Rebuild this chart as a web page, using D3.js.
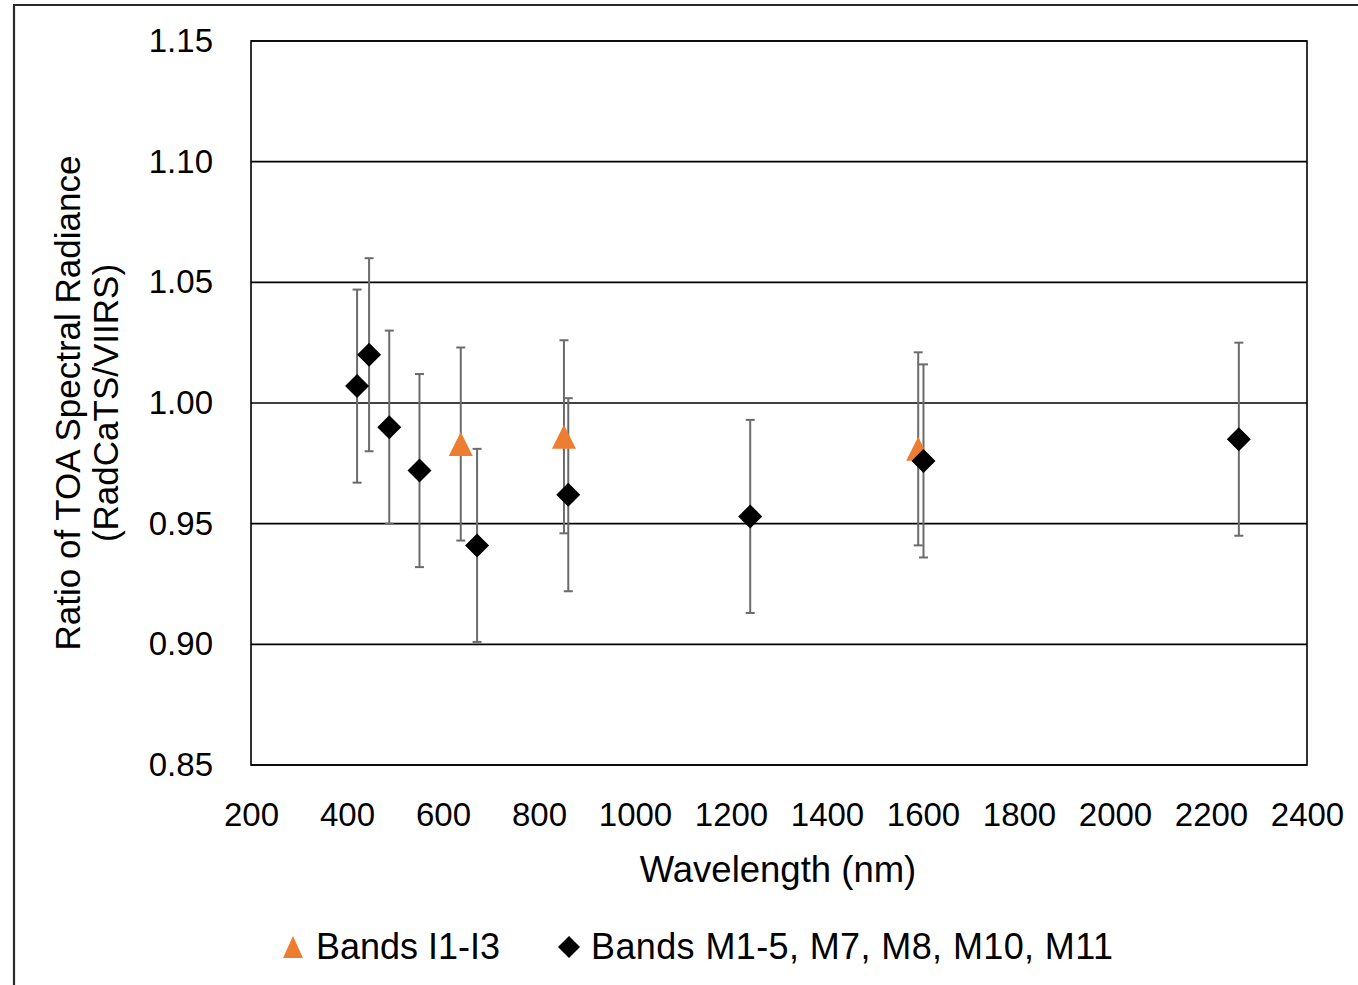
<!DOCTYPE html>
<html>
<head>
<meta charset="utf-8">
<script src="https://cdn.jsdelivr.net/npm/d3@7"></script>
<style>
  html, body { margin: 0; padding: 0; background: #fff; }
  svg { display: block; font-family: "Liberation Sans", Arial, sans-serif; }
</style>
</head>
<body>
<svg id="chart" width="1358" height="985"></svg>
<script>
// ---- data ----
const iWavelength = [637, 852, 1590];
const iRatio = [0.983, 0.986, 0.981];
const iError = [0.04, 0.04, 0.04];

const mWavelength = [421, 446, 488, 551, 671, 861, 1240, 1601, 2258];
const mRatio = [1.007, 1.020, 0.990, 0.972, 0.941, 0.962, 0.953, 0.976, 0.985];
const mError = [0.04, 0.04, 0.04, 0.04, 0.04, 0.04, 0.04, 0.04, 0.04];

const xTicks = [200, 400, 600, 800, 1000, 1200, 1400, 1600, 1800, 2000, 2200, 2400];
const yTicks = [0.85, 0.90, 0.95, 1.00, 1.05, 1.10, 1.15];
const seriesNames = ["Bands I1-I3", "Bands M1-5, M7, M8, M10, M11"];
const xTitle = "Wavelength (nm)";
const yTitle = ["Ratio of TOA Spectral Radiance", "(RadCaTS/VIIRS)"];

(function () {
// ---- layout ----
const svg = d3.select("#chart");
const pLeft = 251, pRight = 1307, pTop = 41, pBottom = 765;
const x = d3.scaleLinear().domain([200, 2400]).range([pLeft, pRight]);
const y = d3.scaleLinear().domain([0.85, 1.15]).range([pBottom, pTop]);

// outer frame (partial, as in the cropped reference)
svg.append("line").attr("x1", 14).attr("x2", 14).attr("y1", 5).attr("y2", 985)
  .attr("stroke", "#2a2a2a").attr("stroke-width", 2.2);
svg.append("line").attr("x1", 13).attr("x2", 1358).attr("y1", 5).attr("y2", 5)
  .attr("stroke", "#2a2a2a").attr("stroke-width", 2.2);

// gridlines
svg.append("g").selectAll("line").data(yTicks).join("line")
  .attr("x1", pLeft).attr("x2", pRight)
  .attr("y1", d => y(d)).attr("y2", d => y(d))
  .attr("stroke", "#000").attr("stroke-width", 1.6);

// plot border
svg.append("rect").attr("x", pLeft).attr("y", pTop)
  .attr("width", pRight - pLeft).attr("height", pBottom - pTop)
  .attr("fill", "none").attr("stroke", "#000").attr("stroke-width", 1.6);

// y axis labels
const yAxis = d3.axisLeft(y).tickValues(yTicks).tickFormat(d3.format(".2f")).tickSize(0).tickPadding(38);
const gy = svg.append("g").attr("transform", `translate(${pLeft},0)`).call(yAxis);
gy.select(".domain").remove();
gy.selectAll("text").attr("font-size", 33).attr("fill", "#000")
  .attr("font-family", "'Liberation Sans', Arial, sans-serif");

// x axis labels
const xAxis = d3.axisBottom(x).tickValues(xTicks).tickFormat(d3.format("d")).tickSize(0).tickPadding(38);
const gx = svg.append("g").attr("transform", `translate(0,${pBottom})`).call(xAxis);
gx.select(".domain").remove();
gx.selectAll("text").attr("font-size", 33).attr("fill", "#000")
  .attr("font-family", "'Liberation Sans', Arial, sans-serif");

// axis titles
svg.append("text").attr("x", 778).attr("y", 882)
  .attr("text-anchor", "middle").attr("font-size", 36.5).text(xTitle);
const yt = svg.append("text").attr("transform", "translate(80,403) rotate(-90)")
  .attr("text-anchor", "middle").attr("font-size", 35);
yt.append("tspan").attr("x", 0).attr("y", 0).text(yTitle[0]);
yt.append("tspan").attr("x", 0).attr("y", 38).text(yTitle[1]);

// error bars
const errColor = "#6b6b6b";
function errorBars(ws, vs, es) {
  const g = svg.append("g");
  const data = ws.map((w, i) => ({ w, v: vs[i], e: es[i] }));
  g.selectAll("line.v").data(data).join("line").attr("class", "v")
    .attr("x1", d => x(d.w)).attr("x2", d => x(d.w))
    .attr("y1", d => y(d.v + d.e)).attr("y2", d => y(d.v - d.e))
    .attr("stroke", errColor).attr("stroke-width", 2);
  ["up", "dn"].forEach((c, k) => {
    const s = k === 0 ? 1 : -1;
    g.selectAll("line." + c).data(data).join("line").attr("class", c)
      .attr("x1", d => x(d.w) - 4.5).attr("x2", d => x(d.w) + 4.5)
      .attr("y1", d => y(d.v + s * d.e)).attr("y2", d => y(d.v + s * d.e))
      .attr("stroke", errColor).attr("stroke-width", 2);
  });
}
errorBars(iWavelength, iRatio, iError);
errorBars(mWavelength, mRatio, mError);

// markers
const triPath = "M0,-12L12,12L-12,12Z";
const diaPath = "M0,-12L12,0L0,12L-12,0Z";
svg.append("g").selectAll("path").data(iWavelength.map((w, i) => [w, iRatio[i]])).join("path")
  .attr("d", triPath).attr("fill", "#ED7D31")
  .attr("transform", d => `translate(${x(d[0])},${y(d[1])})`);
svg.append("g").selectAll("path").data(mWavelength.map((w, i) => [w, mRatio[i]])).join("path")
  .attr("d", diaPath).attr("fill", "#000")
  .attr("transform", d => `translate(${x(d[0])},${y(d[1])})`);

// legend
const lg = svg.append("g");
lg.append("path").attr("d", "M0,-11L10,11L-10,11Z").attr("fill", "#ED7D31")
  .attr("transform", "translate(293,947)");
lg.append("text").attr("x", 316).attr("y", 959).attr("font-size", 36).text(seriesNames[0]);
lg.append("path").attr("d", "M0,-11L11,0L0,11L-11,0Z").attr("fill", "#000")
  .attr("transform", "translate(569,947)");
lg.append("text").attr("x", 591).attr("y", 959).attr("font-size", 36).attr("textLength", 522)
  .attr("lengthAdjust", "spacing").text(seriesNames[1]);
})();
</script>
</body>
</html>
